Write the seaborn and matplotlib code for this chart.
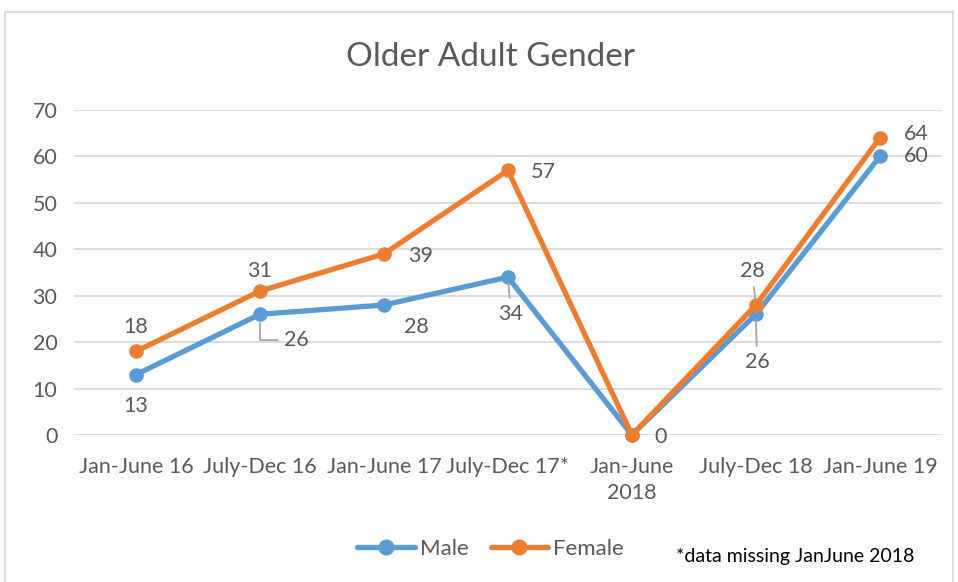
import matplotlib.pyplot as plt
import seaborn as sns
import pandas as pd
from matplotlib.patches import Rectangle

# data
periods = ['Jan-June 16', 'July-Dec 16', 'Jan-June 17', 'July-Dec 17*',
           'Jan-June\n2018', 'July-Dec 18', 'Jan-June 19']
male = [13, 26, 28, 34, 0, 26, 60]
female = [18, 31, 39, 57, 0, 28, 64]

# label offsets (pixels) for each point, and whether a leader line is drawn
male_off = [(0, -31), (36, -26), (32, -22), (3, -37), (29, -2), (1, -48), (36, 0)]
male_lead = [None, 'angle', None, 'straight', None, 'straight', None]
female_off = [(0, 24), (0, 20), (37, -2), (35, -2), None, (-4, 34), (36, 4)]
female_lead = [None, None, None, None, None, 'straight', None]

blue = '#5B9BD5'
orange = '#ED7D31'
txt = '#595959'

df = pd.DataFrame({
    'pos': list(range(len(periods))) * 2,
    'count': male + female,
    'gender': ['Male'] * len(male) + ['Female'] * len(female),
})

sns.set_style('white')
plt.rcParams['font.family'] = ['Lato', 'DejaVu Sans']

fig = plt.figure(figsize=(9.58, 5.82), dpi=100)
ax = fig.add_axes([0.0772, 0.2526, 0.906, 0.5584])

sns.lineplot(data=df, x='pos', y='count', hue='gender', palette=[blue, orange],
             marker='o', markersize=10.5, markeredgewidth=0, linewidth=3.8,
             ax=ax, legend=False, clip_on=False)
for ln in ax.lines:
    ln.set_clip_on(False)

ax.set_xlim(-0.5, len(periods) - 0.5)
ax.set_ylim(0, 70)
ax.set_yticks(range(0, 71, 10))
ax.set_xticks(range(len(periods)))
ax.set_xticklabels(periods, linespacing=1.35)
ax.tick_params(axis='both', length=0, labelsize=15.5, colors=txt)
ax.tick_params(axis='x', pad=16)
ax.tick_params(axis='y', pad=12)
ax.grid(axis='y', color='#D9D9D9', linewidth=1.3)
ax.set_axisbelow(True)
sns.despine(ax=ax, left=True, bottom=True)
ax.set_xlabel('')
ax.set_ylabel('')


def put_labels(values, offsets, leads):
    for i, (v, off, lead) in enumerate(zip(values, offsets, leads)):
        if off is None:
            continue
        ap = None
        if lead == 'angle':
            ap = dict(arrowstyle='-', color='#A6A6A6', lw=1.3,
                      connectionstyle='angle,angleA=0,angleB=90,rad=0',
                      shrinkA=2, shrinkB=6)
        elif lead == 'straight':
            ap = dict(arrowstyle='-', color='#A6A6A6', lw=1.3, shrinkA=2, shrinkB=4)
        ax.annotate(str(v), (i, v), xytext=off, textcoords='offset pixels',
                    ha='center', va='center', fontsize=15.5, color=txt,
                    arrowprops=ap, annotation_clip=False)


put_labels(male, male_off, male_lead)
put_labels(female, female_off, female_lead)

fig.text(0.512, 0.902, 'Older Adult Gender', ha='center', va='center',
         fontsize=24, color=txt)

handles = [plt.Line2D([], [], color=blue, lw=3.8, marker='o', markersize=10.5),
           plt.Line2D([], [], color=orange, lw=3.8, marker='o', markersize=10.5)]
fig.legend(handles, ['Male', 'Female'], loc='center', bbox_to_anchor=(0.512, 0.057),
           ncol=2, frameon=False, fontsize=16, handlelength=2.6,
           columnspacing=1.0, handletextpad=0.2, labelcolor=txt)

fig.text(0.706, 0.044, '*data missing JanJune 2018', ha='left', va='center',
         fontsize=14, color='black')

fig.patches.append(Rectangle((0.005, -0.05), 0.99, 1.03, transform=fig.transFigure,
                             fill=False, edgecolor='#D9D9D9', lw=1.3))

fig.savefig('out.png', dpi=100)
